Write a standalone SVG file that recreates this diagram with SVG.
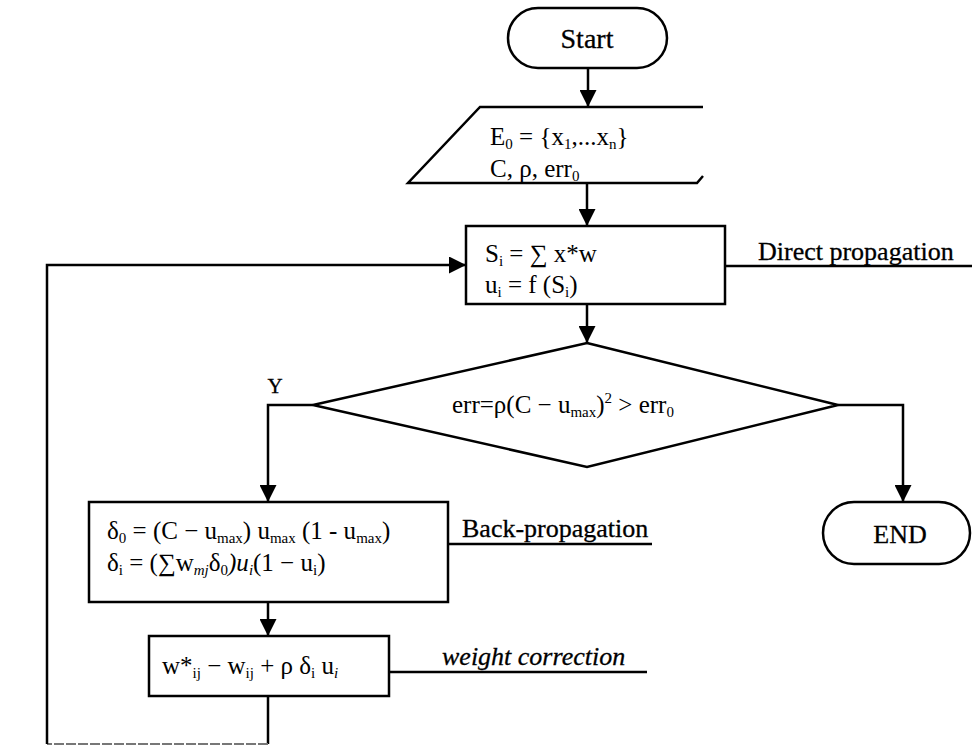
<svg xmlns="http://www.w3.org/2000/svg" width="972" height="746" viewBox="0 0 972 746">
<style>
.t{font-family:"Liberation Serif","Times New Roman","DejaVu Serif",serif;font-size:25px;fill:#000}
.s{font-size:15px}
.lbl{font-size:26px;stroke:#000;stroke-width:0.3}
.shape{fill:#fff;stroke:#000;stroke-width:2.5}
.ln{fill:none;stroke:#000;stroke-width:2.5}
.faint{fill:none;stroke:#777;stroke-width:2;stroke-dasharray:10 2}
</style>
<defs>
<marker id="ah" viewBox="0 0 10 10" refX="10" refY="5" markerUnits="userSpaceOnUse" markerWidth="17" markerHeight="17" orient="auto">
<path d="M0,0 L10,5 L0,10 z" fill="#000"/>
</marker>
</defs>
<rect width="972" height="746" fill="#fff"/>

<g id="connectors">
<line class="ln" x1="588" y1="68" x2="588" y2="107" marker-end="url(#ah)"/>
<line class="ln" x1="587" y1="183" x2="587" y2="226" marker-end="url(#ah)"/>
<line class="ln" x1="587" y1="304" x2="587" y2="343" marker-end="url(#ah)"/>
<polyline class="ln" points="313,405 268,405 268,502" marker-end="url(#ah)"/>
<polyline class="ln" points="838,405 903,405 903,502" marker-end="url(#ah)"/>
<line class="ln" x1="268" y1="602" x2="268" y2="636" marker-end="url(#ah)"/>
<line class="ln" x1="268" y1="696" x2="268" y2="744"/>
<line class="faint" x1="268" y1="744" x2="47" y2="744"/>
<polyline class="ln" points="47,744 47,265 466,265" marker-end="url(#ah)"/>
<line class="ln" x1="725" y1="266" x2="972" y2="266"/>
<line class="ln" x1="448" y1="544" x2="652" y2="544"/>
<line class="ln" x1="389" y1="672" x2="647" y2="672"/>
</g>

<g id="start">
<rect class="shape" x="508" y="8" width="159" height="60" rx="30"/>
<text class="t lbl" x="587" y="48" text-anchor="middle" style="font-size:28px">Start</text>
</g>

<g id="input">
<path class="shape" d="M703,107 L480,107 L408,183 L697,183 L703,176"/>
<text class="t" x="490" y="145">E<tspan class="s" dy="4">0</tspan><tspan dy="-4"> = {x</tspan><tspan class="s" dy="4">1</tspan><tspan dy="-4">,...x</tspan><tspan class="s" dy="4">n</tspan><tspan dy="-4">}</tspan></text>
<text class="t" x="490" y="177">C, ρ, err<tspan class="s" dy="4">0</tspan></text>
</g>

<g id="forward">
<rect class="shape" x="466" y="226" width="259" height="78"/>
<text class="t" x="485" y="262">S<tspan class="s" dy="4">i</tspan><tspan dy="-4"> = ∑ x*w</tspan></text>
<text class="t" x="485" y="293">u<tspan class="s" dy="4">i</tspan><tspan dy="-4"> = f (S</tspan><tspan class="s" dy="4">i</tspan><tspan dy="-4">)</tspan></text>
<text class="t lbl" x="758" y="260">Direct propagation</text>
</g>

<g id="decision">
<polygon class="shape" points="587,343 838,405 587,467 313,405"/>
<text class="t" x="452" y="413">err=ρ(C − u<tspan class="s" dy="4">max</tspan><tspan dy="-4">)</tspan><tspan class="s" dy="-10">2</tspan><tspan dy="10"> &gt; err</tspan><tspan class="s" dy="4">0</tspan></text>
<text class="t lbl" x="275" y="393" text-anchor="middle" style="font-size:21px">Y</text>
</g>

<g id="end">
<rect class="shape" x="823" y="502" width="147" height="62" rx="31"/>
<text class="t lbl" x="900" y="543" text-anchor="middle">END</text>
</g>

<g id="backprop">
<rect class="shape" x="89" y="502" width="359" height="100"/>
<text class="t" x="107" y="539">δ<tspan class="s" dy="4">0</tspan><tspan dy="-4"> = (C − u</tspan><tspan class="s" dy="4">max</tspan><tspan dy="-4">) u</tspan><tspan class="s" dy="4">max</tspan><tspan dy="-4"> (1 - u</tspan><tspan class="s" dy="4">max</tspan><tspan dy="-4">)</tspan></text>
<text class="t" x="107" y="571">δ<tspan class="s" dy="4">i</tspan><tspan dy="-4"> = (∑w</tspan><tspan class="s" dy="4" font-style="italic">mj</tspan><tspan dy="-4">δ</tspan><tspan class="s" dy="4">0</tspan><tspan dy="-4" font-style="italic">)u</tspan><tspan class="s" dy="4" font-style="italic">i</tspan><tspan dy="-4">(1 − u</tspan><tspan class="s" dy="4">i</tspan><tspan dy="-4">)</tspan></text>
<text class="t lbl" x="462" y="537">Back-propagation</text>
</g>

<g id="correction">
<rect class="shape" x="149" y="636" width="240" height="60"/>
<text class="t" x="162" y="674">w*<tspan class="s" dy="4">ij</tspan><tspan dy="-4"> − w</tspan><tspan class="s" dy="4">ij</tspan><tspan dy="-4"> + ρ δ</tspan><tspan class="s" dy="4">i</tspan><tspan dy="-4"> u</tspan><tspan class="s" dy="4" font-style="italic">i</tspan></text>
<text class="t lbl" x="442" y="665" font-style="italic">weight correction</text>
</g>
</svg>
